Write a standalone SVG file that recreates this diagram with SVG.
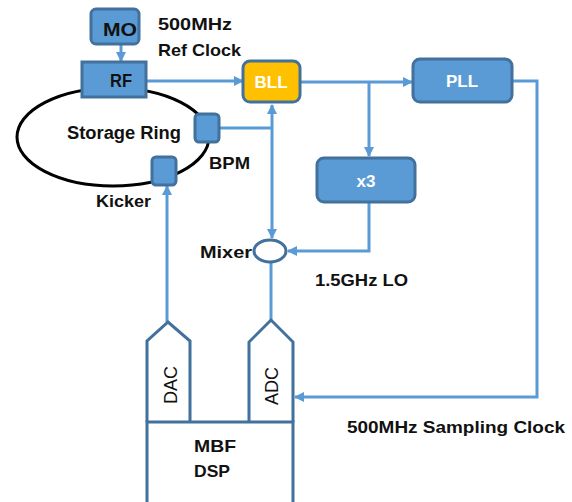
<svg xmlns="http://www.w3.org/2000/svg" width="572" height="502" viewBox="0 0 572 502">
<style>
.box{fill:#5b9bd5;stroke:#41719c;stroke-width:3}
.wire{fill:none;stroke:#5b9bd5;stroke-width:3}
.lbl{font-family:"Liberation Sans",Arial,sans-serif;font-weight:bold;font-size:17px;fill:#111}
.wt{font-family:"Liberation Sans",Arial,sans-serif;font-weight:bold;font-size:17px;fill:#fff}
.dk{font-family:"Liberation Sans",Arial,sans-serif;font-weight:bold;font-size:18px;fill:#111}
.rot{font-family:"Liberation Sans",Arial,sans-serif;font-size:18px;fill:#111}
.out{fill:#fff;stroke:#41719c;stroke-width:3}
</style>
<defs>
<marker id="ah" markerWidth="10" markerHeight="10" refX="9" refY="5" orient="auto" markerUnits="userSpaceOnUse">
<path d="M0,0 L10,5 L0,10 Z" fill="#5b9bd5"/>
</marker>
</defs>
<rect width="572" height="502" fill="#fff"/>
<g id="ring">
<ellipse cx="113" cy="137" rx="96" ry="49" fill="none" stroke="#000" stroke-width="3"/>
<text class="dk" x="67" y="139" textLength="114" lengthAdjust="spacingAndGlyphs">Storage Ring</text>
</g>
<g id="connectors">
<path class="wire" d="M121,44 V61" marker-end="url(#ah)"/>
<path class="wire" d="M146,81 H243" marker-end="url(#ah)"/>
<path class="wire" d="M219,128 H272"/>
<path class="wire" d="M272,128 V105" marker-end="url(#ah)"/>
<path class="wire" d="M272,128 V238" marker-end="url(#ah)"/>
<path class="wire" d="M301,82 H412" marker-end="url(#ah)"/>
<path class="wire" d="M369,82 V156" marker-end="url(#ah)"/>
<path class="wire" d="M369,203 V251 H288" marker-end="url(#ah)"/>
<path class="wire" d="M512,81 H537 V397 H295" marker-end="url(#ah)"/>
<path class="wire" d="M271,263 V320"/>
<path class="wire" d="M167,322 V186" marker-end="url(#ah)"/>
</g>
<g id="MO">
<rect class="box" x="91" y="9" width="48" height="35" rx="5"/>
<text class="dk" x="103" y="36" font-size="19" textLength="34" lengthAdjust="spacingAndGlyphs">MO</text>
</g>
<g id="RF">
<rect class="box" x="82" y="62" width="64" height="35"/>
<text class="dk" x="110" y="87" textLength="22" lengthAdjust="spacingAndGlyphs">RF</text>
</g>
<g id="BLL">
<rect x="243" y="61" width="57" height="41" rx="7" fill="#ffc000" stroke="#41719c" stroke-width="3"/>
<text class="wt" x="271" y="88" text-anchor="middle">BLL</text>
</g>
<g id="PLL">
<rect class="box" x="413" y="59" width="99" height="43" rx="7"/>
<text class="wt" x="462" y="87" text-anchor="middle">PLL</text>
</g>
<g id="x3">
<rect class="box" x="317" y="158" width="98" height="44" rx="7"/>
<text class="wt" x="366" y="187" text-anchor="middle">x3</text>
</g>
<g id="BPM">
<rect class="box" x="195" y="114" width="24" height="28" rx="4"/>
<text class="lbl" x="209" y="169" textLength="41" lengthAdjust="spacingAndGlyphs">BPM</text>
</g>
<g id="Kicker">
<rect class="box" x="152" y="157" width="24" height="28" rx="4"/>
<text class="lbl" x="96" y="207" textLength="55" lengthAdjust="spacingAndGlyphs">Kicker</text>
</g>
<g id="Mixer">
<ellipse class="out" cx="270" cy="251" rx="16" ry="11"/>
<text class="lbl" x="200" y="258" textLength="52" lengthAdjust="spacingAndGlyphs">Mixer</text>
</g>
<g id="DAC">
<path class="out" d="M147,422 V341 L168,322 L190,341 V422"/>
<text class="rot" transform="translate(177,385) rotate(-90)" text-anchor="middle">DAC</text>
</g>
<g id="ADC">
<path class="out" d="M249,422 V342 L271,320 L293,342 V422"/>
<text class="rot" transform="translate(278,386) rotate(-90)" text-anchor="middle">ADC</text>
</g>
<g id="DSP">
<path d="M147,502 V422 H293 V502" fill="#fff" stroke="#41719c" stroke-width="3"/>
<text class="lbl" x="194" y="452" textLength="42" lengthAdjust="spacingAndGlyphs">MBF</text>
<text class="lbl" x="194" y="477" textLength="36" lengthAdjust="spacingAndGlyphs">DSP</text>
</g>
<g id="labels">
<text class="lbl" x="158" y="30" textLength="74" lengthAdjust="spacingAndGlyphs">500MHz</text>
<text class="lbl" x="158" y="56" textLength="83" lengthAdjust="spacingAndGlyphs">Ref Clock</text>
<text class="lbl" x="315" y="286" textLength="93" lengthAdjust="spacingAndGlyphs">1.5GHz LO</text>
<text class="lbl" x="347" y="433" font-size="18" textLength="218" lengthAdjust="spacingAndGlyphs">500MHz Sampling Clock</text>
</g>
</svg>
